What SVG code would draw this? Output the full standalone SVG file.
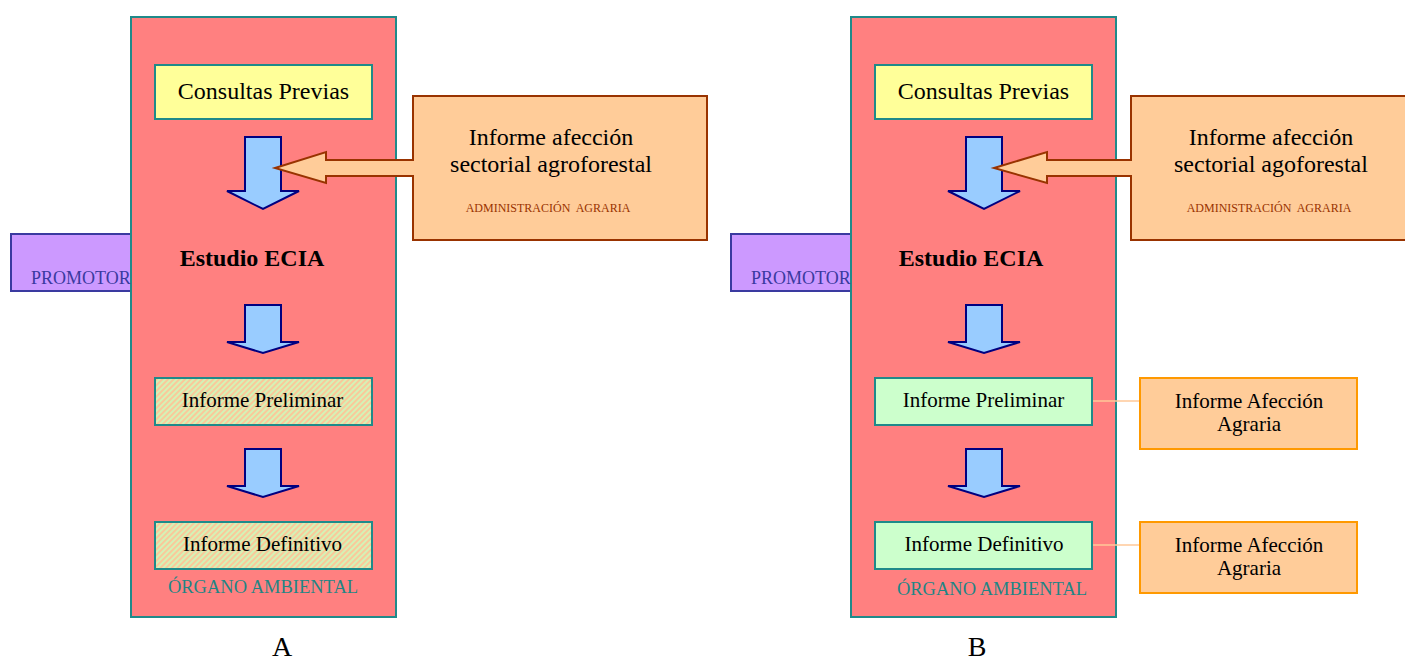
<svg xmlns="http://www.w3.org/2000/svg" width="1405" height="663" viewBox="0 0 1405 663">
<style>
text{font-family:"Liberation Serif","Times New Roman",serif;}
.organ{fill:#ff8080;stroke:#1f8a8a;stroke-width:2;}
.prom{fill:#cc99ff;stroke:#3a3aa0;stroke-width:2;}
.promt{fill:#3a3aa0;font-size:18px;}
.cons{fill:#ffff99;stroke:#1f8a8a;stroke-width:2;}
.hatch{fill:url(#stripes);stroke:#1f8a8a;stroke-width:2;}
.green{fill:#ccffcc;stroke:#1f8a8a;stroke-width:2;}
.admin{fill:#ffcc99;stroke:#993300;stroke-width:2;}
.afe{fill:#ffcc99;stroke:#ff9900;stroke-width:2;}
.blue{fill:#99ccff;stroke:#000080;stroke-width:2;stroke-linejoin:miter;}
.link{stroke:#ffc999;stroke-width:1.5;fill:none;}
.t24{font-size:24px;fill:#000;text-anchor:middle;}
.t21{font-size:21px;fill:#000;text-anchor:middle;}
.bold{font-weight:bold;}
.adm{font-size:12px;fill:#993300;text-anchor:middle;}
.org{font-size:18.5px;fill:#1f8585;text-anchor:middle;}
.lbl{font-size:28px;fill:#000;text-anchor:middle;}
</style>
<defs>
<pattern id="stripes" width="4" height="4" patternUnits="userSpaceOnUse" patternTransform="rotate(45)">
<rect x="0" y="0" width="4" height="4" fill="#f9c99a"/>
<rect x="0" y="0" width="2" height="4" fill="#d4f2b6"/>
</pattern>
</defs>

<!-- Panel A -->
<g id="promotorA"><rect class="prom" x="11" y="234" width="125" height="57"/></g>
<g id="organoA"><rect class="organ" x="131" y="17" width="265" height="600"/>
<text class="org" x="263" y="593">ÓRGANO AMBIENTAL</text></g>
<g id="promotorA-label"><text class="promt" x="31" y="284">PROMOTOR</text></g>
<g id="consultasA"><rect class="cons" x="155" y="65" width="217" height="54"/>
<text class="t24" x="263.5" y="99">Consultas Previas</text></g>
<g id="estudioA"><text class="t24 bold" x="252" y="266">Estudio ECIA</text></g>
<g id="preliminarA"><rect class="hatch" x="155" y="378" width="217" height="47"/>
<text class="t21" x="262.5" y="407">Informe Preliminar</text></g>
<g id="definitivoA"><rect class="hatch" x="155" y="522" width="217" height="47"/>
<text class="t21" x="262.5" y="551">Informe Definitivo</text></g>

<!-- Panel B -->
<g id="promotorB"><rect class="prom" x="731" y="234" width="125" height="57"/></g>
<g id="organoB"><rect class="organ" x="851" y="17" width="265" height="600"/>
<text class="org" x="992" y="595">ÓRGANO AMBIENTAL</text></g>
<g id="promotorB-label"><text class="promt" x="751" y="284">PROMOTOR</text></g>
<g id="consultasB"><rect class="cons" x="875" y="65" width="217" height="54"/>
<text class="t24" x="983.5" y="99">Consultas Previas</text></g>
<g id="estudioB"><text class="t24 bold" x="971" y="266">Estudio ECIA</text></g>
<g id="preliminarB"><rect class="green" x="875" y="378" width="217" height="47"/>
<text class="t21" x="983.5" y="407">Informe Preliminar</text></g>
<g id="definitivoB"><rect class="green" x="875" y="522" width="217" height="47"/>
<text class="t21" x="984" y="551">Informe Definitivo</text></g>
<g id="afeccion1B"><rect class="afe" x="1140" y="378" width="217" height="71"/>
<text class="t21" x="1249" y="408">Informe Afección</text>
<text class="t21" x="1249" y="431">Agraria</text></g>
<g id="afeccion2B"><rect class="afe" x="1140" y="522" width="217" height="71"/>
<text class="t21" x="1249" y="552">Informe Afección</text>
<text class="t21" x="1249" y="575">Agraria</text></g>

<!-- Connectors -->
<g id="connectors">
<polygon class="blue" points="245,137 281,137 281,191 299,191 263,209 227,191 245,191"/>
<polygon class="blue" points="245,305 281,305 281,342 299,342 263,353 227,342 245,342"/>
<polygon class="blue" points="245,449 281,449 281,486 299,486 263,497 227,486 245,486"/>
<polygon class="blue" points="966,137 1002,137 1002,191 1020,191 984,209 948,191 966,191"/>
<polygon class="blue" points="966,305 1002,305 1002,342 1020,342 984,353 948,342 966,342"/>
<polygon class="blue" points="966,449 1002,449 1002,486 1020,486 984,497 948,486 966,486"/>
<line class="link" x1="1093" y1="401" x2="1139" y2="401"/>
<line class="link" x1="1093" y1="545" x2="1139" y2="545"/>
</g>

<g id="agroforestalA">
<path class="admin" d="M413,96 H707 V240 H413 V176 H326 V183 L275,168 L326,152 V160 H413 Z"/>
<text class="t24" x="551" y="145">Informe afección</text>
<text class="t24" x="551" y="172">sectorial agroforestal</text>
<text class="adm" x="548" y="212" xml:space="preserve">ADMINISTRACIÓN  AGRARIA</text>
</g>
<g id="agroforestalB">
<path class="admin" d="M1131,96 H1430 V240 H1131 V176 H1047 V183 L994,168 L1047,152 V160 H1131 Z"/>
<text class="t24" x="1271" y="145">Informe afección</text>
<text class="t24" x="1271" y="172">sectorial agoforestal</text>
<text class="adm" x="1269" y="212" xml:space="preserve">ADMINISTRACIÓN  AGRARIA</text>
</g>

<g id="labelA"><text class="lbl" x="282" y="656">A</text></g>
<g id="labelB"><text class="lbl" x="977" y="656">B</text></g>
</svg>
